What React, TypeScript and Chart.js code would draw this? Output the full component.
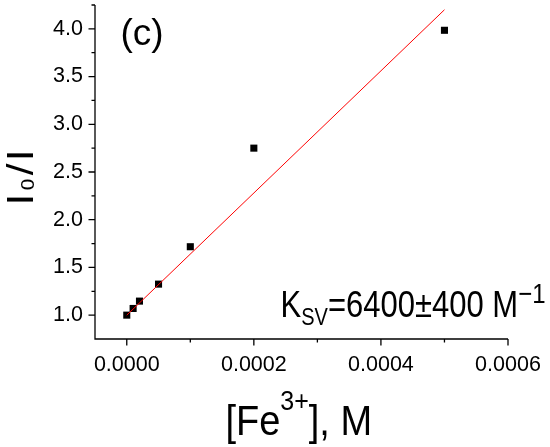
import React, { useEffect, useRef } from "react";
import { Chart, registerables } from "chart.js";

Chart.register(...registerables);

// ---- data ----
const CONCENTRATION = [0, 0.00001, 0.00002, 0.00005, 0.0001, 0.0002, 0.0005];
const RATIO = [1.0, 1.07, 1.147, 1.325, 1.717, 2.75, 3.985];
const FIT_X = [0, 0.0005];
const FIT_Y = [1.0, 4.2];
const X_MAJOR = [0, 0.0002, 0.0004, 0.0006];
const X_MINOR = [0.0001, 0.0003, 0.0005];
const Y_MAJOR = [1.0, 1.5, 2.0, 2.5, 3.0, 3.5, 4.0];
const Y_MINOR = [1.25, 1.75, 2.25, 2.75, 3.25, 3.75, 4.25];

const FONT = "'Liberation Sans', Arial, Helvetica, sans-serif";

type Seg = { text: string; size: number; dy: number; gap?: number };

function segsWidth(ctx: CanvasRenderingContext2D, segs: Seg[]) {
  let w = 0;
  segs.forEach((s, i) => {
    ctx.font = `${s.size}px ${FONT}`;
    w += ctx.measureText(s.text).width;
    if (i < segs.length - 1) w += s.gap || 0;
  });
  return w;
}

function drawSegs(ctx: CanvasRenderingContext2D, segs: Seg[], x0: number) {
  let x = x0;
  for (const s of segs) {
    ctx.font = `${s.size}px ${FONT}`;
    ctx.fillText(s.text, x, s.dy);
    x += ctx.measureText(s.text).width + (s.gap || 0);
  }
}

const decorPlugin = {
  id: "decor",
  beforeDatasetsDraw(chart: any) {
    const { ctx, chartArea: a, scales } = chart;
    const xs = scales.x;
    const ys = scales.y;
    ctx.save();
    ctx.strokeStyle = "#000";
    ctx.lineWidth = 1.3;
    ctx.beginPath();
    ctx.moveTo(a.left, a.top);
    ctx.lineTo(a.left, a.bottom);
    ctx.lineTo(a.right, a.bottom);
    ctx.stroke();
    ctx.beginPath();
    X_MAJOR.forEach((v) => {
      const px = xs.getPixelForValue(v);
      ctx.moveTo(px, a.bottom);
      ctx.lineTo(px, a.bottom + 6.5);
    });
    X_MINOR.forEach((v) => {
      const px = xs.getPixelForValue(v);
      ctx.moveTo(px, a.bottom);
      ctx.lineTo(px, a.bottom + 3.5);
    });
    Y_MAJOR.forEach((v) => {
      const py = ys.getPixelForValue(v);
      ctx.moveTo(a.left, py);
      ctx.lineTo(a.left - 6.5, py);
    });
    Y_MINOR.forEach((v) => {
      const py = ys.getPixelForValue(v);
      ctx.moveTo(a.left, py);
      ctx.lineTo(a.left - 3.5, py);
    });
    ctx.stroke();
    ctx.restore();
  },
  afterDraw(chart: any) {
    const { ctx } = chart;
    ctx.save();
    ctx.fillStyle = "#000";
    ctx.textBaseline = "alphabetic";
    ctx.textAlign = "left";

    // panel label
    ctx.font = `37px ${FONT}`;
    ctx.fillText("(c)", 120.5, 45);

    // Stern-Volmer constant annotation
    ctx.save();
    ctx.translate(280.6, 316.7);
    ctx.scale(1, 1.17);
    drawSegs(
      ctx,
      [
        { text: "K", size: 31, dy: 0 },
        { text: "SV", size: 20, dy: 7 },
        { text: "=6400±400 M", size: 31, dy: 0 },
        { text: "−1", size: 24, dy: -12 },
      ],
      0
    );
    ctx.restore();

    // x-axis title
    ctx.save();
    ctx.translate(225.4, 435);
    ctx.scale(1, 1.13);
    drawSegs(
      ctx,
      [
        { text: "[Fe", size: 38, dy: 0 },
        { text: "3+", size: 25, dy: -22 },
        { text: "], M", size: 38, dy: 0 },
      ],
      0
    );
    ctx.restore();

    // y-axis title
    const ySegs: Seg[] = [
      { text: "I", size: 37, dy: 0, gap: 3 },
      { text: "0", size: 18, dy: 1, gap: 3 },
      { text: "/", size: 37, dy: 0, gap: 2 },
      { text: "I", size: 37, dy: 0 },
    ];
    ctx.save();
    ctx.translate(33, 177.5);
    ctx.rotate(-Math.PI / 2);
    ctx.scale(1.15, 1);
    const w = segsWidth(ctx, ySegs);
    drawSegs(ctx, ySegs, -w / 2);
    ctx.restore();

    ctx.restore();
  },
};

export default function App() {
  const ref = useRef<HTMLCanvasElement>(null);

  useEffect(() => {
    const canvas = ref.current;
    if (!canvas) return;
    const chart = new Chart(canvas, {
      type: "scatter",
      data: {
        datasets: [
          {
            label: "fit",
            data: FIT_X.map((x, i) => ({ x, y: FIT_Y[i] })),
            showLine: true,
            borderColor: "#ff0000",
            borderWidth: 1,
            pointRadius: 0,
            fill: false,
          } as any,
          {
            label: "data",
            data: CONCENTRATION.map((x, i) => ({ x, y: RATIO[i] })),
            pointStyle: "rect",
            pointRadius: 5,
            backgroundColor: "#000",
            borderColor: "#000",
            borderWidth: 0,
          } as any,
        ],
      },
      options: {
        animation: false,
        responsive: false,
        layout: { padding: { top: 5, right: 42, bottom: 0, left: 0 } },
        plugins: {
          legend: { display: false },
          tooltip: { enabled: false },
        },
        scales: {
          x: {
            type: "linear",
            min: -0.00005,
            max: 0.0006,
            border: { display: false },
            grid: { display: false, drawTicks: false },
            ticks: {
              font: { family: FONT, size: 21.5 },
              color: "#000",
              padding: 13,
              maxRotation: 0,
              autoSkip: false,
              callback: (v: any) => Number(v).toFixed(4),
            },
            afterBuildTicks: (s: any) => {
              s.ticks = X_MAJOR.map((v) => ({ value: v }));
            },
            afterFit: (s: any) => {
              s.height = 108;
              s.paddingLeft = 0;
              s.paddingRight = 0;
            },
          },
          y: {
            type: "linear",
            min: 0.75,
            max: 4.25,
            border: { display: false },
            grid: { display: false, drawTicks: false },
            ticks: {
              font: { family: FONT, size: 21.5 },
              color: "#000",
              padding: 12,
              autoSkip: false,
              callback: (v: any) => Number(v).toFixed(1),
            },
            afterBuildTicks: (s: any) => {
              s.ticks = Y_MAJOR.map((v) => ({ value: v }));
            },
            afterFit: (s: any) => {
              s.width = 95;
              s.paddingTop = 0;
              s.paddingBottom = 0;
            },
          },
        },
      } as any,
      plugins: [decorPlugin as any],
    });
    return () => chart.destroy();
  }, []);

  return (
    <div style={{ position: "absolute", left: 0, top: 0, width: 550, height: 447, background: "#fff" }}>
      <canvas ref={ref} width={550} height={447} style={{ display: "block" }} />
    </div>
  );
}
